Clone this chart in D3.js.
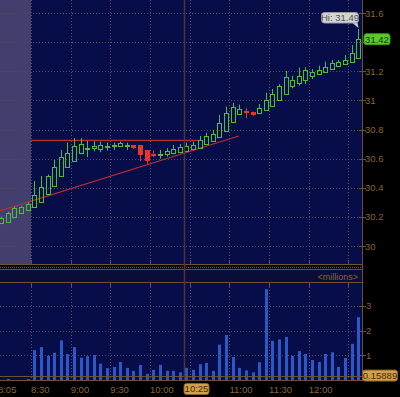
<!DOCTYPE html>
<html>
<head>
<meta charset="utf-8">
<script src="https://cdn.jsdelivr.net/npm/d3@7"></script>
<style>
  body { margin: 0; background: #000; }
  svg { display: block; }
  text { font-family: "Liberation Sans Narrow", "Liberation Sans", Arial, sans-serif; }
</style>
</head>
<body>
<svg id="chart" width="400" height="397"></svg>
<script>
// 5-minute bars, 8:05 .. 12:35
const opens  = [30.161, 30.167, 30.197, 30.225, 30.245, 30.267, 30.305, 30.358, 30.415, 30.481,
                30.545, 30.586, 30.637, 30.668, 30.675, 30.664, 30.683, 30.687, 30.687, 30.688,
                30.692, 30.691, 30.660, 30.635, 30.630, 30.630, 30.637, 30.648, 30.651, 30.669,
                30.675, 30.701, 30.721, 30.747, 30.790, 30.854, 30.905, 30.930, 30.923, 30.916,
                30.932, 30.962, 31.003, 31.044, 31.101, 31.117, 31.140, 31.170, 31.179, 31.195,
                31.214, 31.236, 31.250, 31.262, 31.290];
const highs  = [30.200, 30.235, 30.270, 30.275, 30.300, 30.447, 30.481, 30.490, 30.591, 30.660,
                30.710, 30.740, 30.740, 30.721, 30.720, 30.717, 30.710, 30.710, 30.717, 30.710,
                30.694, 30.691, 30.660, 30.655, 30.660, 30.672, 30.694, 30.700, 30.710, 30.717,
                30.756, 30.778, 30.797, 30.900, 30.957, 30.984, 30.971, 30.946, 30.923, 30.975,
                31.053, 31.078, 31.110, 31.202, 31.168, 31.225, 31.227, 31.214, 31.238, 31.266,
                31.277, 31.277, 31.312, 31.380, 31.490];
const lows   = [30.150, 30.160, 30.190, 30.220, 30.240, 30.260, 30.300, 30.350, 30.410, 30.475,
                30.540, 30.580, 30.630, 30.610, 30.650, 30.644, 30.655, 30.660, 30.685, 30.660,
                30.665, 30.584, 30.564, 30.610, 30.600, 30.614, 30.630, 30.645, 30.648, 30.665,
                30.670, 30.700, 30.720, 30.745, 30.785, 30.850, 30.900, 30.878, 30.895, 30.912,
                30.930, 30.960, 31.000, 31.040, 31.083, 31.101, 31.113, 31.147, 31.175, 31.190,
                31.210, 31.230, 31.245, 31.258, 31.285];
const closes = [30.191, 30.229, 30.259, 30.268, 30.289, 30.351, 30.408, 30.481, 30.541, 30.610,
                30.637, 30.687, 30.701, 30.674, 30.690, 30.692, 30.688, 30.691, 30.706, 30.692,
                30.683, 30.632, 30.591, 30.631, 30.635, 30.655, 30.669, 30.682, 30.685, 30.696,
                30.728, 30.756, 30.770, 30.847, 30.916, 30.953, 30.939, 30.925, 30.907, 30.946,
                31.003, 31.044, 31.099, 31.159, 31.140, 31.168, 31.209, 31.195, 31.209, 31.231,
                31.259, 31.262, 31.277, 31.323, 31.420];
// volume in millions
const volumes = [0, 0.04, 0, 0, 0.04, 1.21, 1.33, 0.98, 1.10, 1.60,
                 1.05, 1.33, 0.90, 0.96, 1.01, 0.66, 0.48, 0.53, 0.73, 0.49,
                 0.37, 0.61, 0.25, 0.41, 0.61, 0.37, 0.37, 0.31, 0.49, 0.41,
                 0.64, 0.69, 0.37, 1.43, 1.82, 0.93, 0.49, 0.39, 0.31, 0.72,
                 3.67, 1.58, 1.64, 1.74, 0.97, 1.17, 1.05, 0.81, 0.73, 1.05,
                 1.12, 0.53, 0.89, 1.46, 2.54];

const priceTicks = [30, 30.2, 30.4, 30.6, 30.8, 31, 31.2, 31.4, 31.6];
const volTicks = [1, 2, 3];
const gridTimes = ['8:30', '9:00', '9:30', '10:00', '10:30', '11:00', '11:30', '12:00', '12:30'];
const timeLabels = ['8:05', '8:30', '9:00', '9:30', '10:00', '11:00', '11:30', '12:00'];

// drawn studies / markers
const resistance = { price: 30.725, from: '8:30', to: '10:37' };
const trendLine = [['8:06:30', 30.241], ['11:07', 30.756]];
const crossTime = '10:26';
const crossLabel = '10:25';
const crossVolume = 0.15889;
const sessionOpen = '8:30';

const parseT = s => { const [h, m, sec] = s.split(':').map(Number); return new Date(2010, 0, 4, h, m, sec || 0); };
const barTimes = d3.timeMinute.every(5).range(parseT('8:05'), parseT('12:40'));
const bars = barTimes.map((t, i) => ({ t, o: opens[i], h: highs[i], l: lows[i], c: closes[i], v: volumes[i] }));

const W = 400, H = 397;
const plotR = 362, priceB = 264, volT = 283, volB = 380;
const navy = '#070d48', brown = '#6e4f2e', txt = '#846639', grid = '#5a4a52';
const green = '#4cbf3a', red = '#e8342a';

const x = d3.scaleTime().domain([parseT('8:30'), parseT('12:30')]).range([31, 348.4]);
const y = d3.scaleLinear().domain([30, 31.6]).range([246, 13]);
const yv = d3.scaleLinear().domain([0, 3.92]).range([volB, volT]);
const cx = d => Math.round(x(d3.timeSecond.offset(d.t, 150))) + 0.5;
const last = bars[bars.length - 1];

const svg = d3.select('#chart');
svg.append('rect').attr('width', W).attr('height', H).attr('fill', '#000');

// ---- price panel
const pp = svg.append('g');
pp.append('rect').attr('width', plotR).attr('height', priceB).attr('fill', navy);
pp.append('rect').attr('width', x(parseT(sessionOpen))).attr('height', priceB).attr('fill', '#423e6e');

pp.selectAll('.hgrid').data(priceTicks).join('line')
    .attr('x1', 0).attr('x2', plotR)
    .attr('y1', d => Math.round(y(d)) + 0.5).attr('y2', d => Math.round(y(d)) + 0.5)
    .attr('stroke', grid).attr('stroke-dasharray', '1,2');
pp.selectAll('.vgrid').data(gridTimes).join('line')
    .attr('x1', d => Math.round(x(parseT(d))) + 0.5).attr('x2', d => Math.round(x(parseT(d))) + 0.5)
    .attr('y1', 0).attr('y2', priceB)
    .attr('stroke', grid).attr('stroke-dasharray', '1,2');
pp.selectAll('.btick').data(gridTimes).join('line')
    .attr('x1', d => Math.round(x(parseT(d))) + 0.5).attr('x2', d => Math.round(x(parseT(d))) + 0.5)
    .attr('y1', priceB - 4).attr('y2', priceB)
    .attr('stroke', brown);

// studies
pp.append('line')
    .attr('x1', x(parseT(resistance.from))).attr('x2', x(parseT(resistance.to)))
    .attr('y1', y(resistance.price)).attr('y2', y(resistance.price))
    .attr('stroke', '#c02a28').attr('stroke-width', 1.3);
pp.append('line')
    .attr('x1', x(parseT(trendLine[0][0]))).attr('y1', y(trendLine[0][1]))
    .attr('x2', x(parseT(trendLine[1][0]))).attr('y2', y(trendLine[1][1]))
    .attr('stroke', '#c02a30').attr('stroke-width', 1.1);

// candles
const candle = pp.selectAll('.candle').data(bars).join('g').attr('class', 'candle');
candle.each(function(d) {
  const g = d3.select(this);
  const up = d.c >= d.o;
  const col = up ? green : red;
  const X = cx(d);
  const top = Math.round(y(Math.max(d.o, d.c))) + 0.5;
  let bot = Math.round(y(Math.min(d.o, d.c))) + 0.5;
  if (bot - top < 1) bot = top + 1;
  g.append('line').attr('x1', X).attr('x2', X).attr('y1', y(d.h)).attr('y2', top).attr('stroke', col);
  g.append('line').attr('x1', X).attr('x2', X).attr('y1', bot).attr('y2', y(d.l)).attr('stroke', col);
  if (up) {
    g.append('rect').attr('x', X - 2).attr('y', top).attr('width', 4).attr('height', bot - top)
      .attr('fill', 'none').attr('stroke', col);
  } else {
    g.append('rect').attr('x', X - 2.5).attr('y', top - 0.5).attr('width', 5).attr('height', bot - top + 1)
      .attr('fill', col);
  }
});

// ---- separator and volume header
svg.append('rect').attr('y', priceB).attr('width', plotR).attr('height', 6).attr('fill', '#0b0b12');
svg.append('line').attr('x1', 0).attr('x2', plotR).attr('y1', 267.5).attr('y2', 267.5)
    .attr('stroke', '#5a5a5a').attr('stroke-dasharray', '1,1');
svg.append('rect').attr('y', 270).attr('width', plotR).attr('height', 12).attr('fill', '#0a0d38');
[priceB + 0.5, 269.5, 282.5].forEach(v => {
  svg.append('line').attr('x1', 0).attr('x2', plotR).attr('y1', v).attr('y2', v).attr('stroke', brown);
});
svg.append('text').attr('x', 358).attr('y', 279.5).attr('text-anchor', 'end')
    .attr('font-size', 9).attr('fill', txt).text('<millions>');

// ---- volume panel
const vp = svg.append('g');
vp.append('rect').attr('y', volT).attr('width', plotR).attr('height', volB - volT).attr('fill', navy);
vp.selectAll('.vh').data(volTicks).join('line')
    .attr('x1', 0).attr('x2', plotR)
    .attr('y1', d => Math.round(yv(d)) + 0.5).attr('y2', d => Math.round(yv(d)) + 0.5)
    .attr('stroke', grid).attr('stroke-dasharray', '1,2');
vp.selectAll('.vv').data(gridTimes).join('line')
    .attr('x1', d => Math.round(x(parseT(d))) + 0.5).attr('x2', d => Math.round(x(parseT(d))) + 0.5)
    .attr('y1', volT + 4).attr('y2', volB)
    .attr('stroke', grid).attr('stroke-dasharray', '1,2');
vp.selectAll('.vt').data(gridTimes).join('line')
    .attr('x1', d => Math.round(x(parseT(d))) + 0.5).attr('x2', d => Math.round(x(parseT(d))) + 0.5)
    .attr('y1', volT).attr('y2', volT + 4)
    .attr('stroke', brown);
vp.selectAll('.vol').data(bars.filter(d => d.v > 0)).join('rect')
    .attr('x', d => cx(d) - 1.5).attr('width', 3)
    .attr('y', d => yv(d.v)).attr('height', d => volB - yv(d.v))
    .attr('fill', '#2a58c8');
vp.append('line').attr('x1', 0).attr('x2', plotR)
    .attr('y1', Math.round(yv(crossVolume)) + 0.5).attr('y2', Math.round(yv(crossVolume)) + 0.5)
    .attr('stroke', brown);
vp.append('line').attr('x1', 0).attr('x2', plotR).attr('y1', volB + 0.5).attr('y2', volB + 0.5)
    .attr('stroke', brown);

// crosshair
const crossX = Math.round(x(parseT(crossTime))) + 0.5;
svg.append('line').attr('x1', crossX).attr('x2', crossX).attr('y1', 0).attr('y2', volB)
    .attr('stroke', '#4b3535').attr('stroke-width', 1.5);

// ---- right axis
svg.append('line').attr('x1', plotR + 0.5).attr('x2', plotR + 0.5).attr('y1', 0).attr('y2', volB + 1)
    .attr('stroke', brown);
const pa = svg.append('g');
pa.selectAll('line').data(priceTicks).join('line')
    .attr('x1', plotR - 3).attr('x2', plotR + 4)
    .attr('y1', d => Math.round(y(d)) + 0.5).attr('y2', d => Math.round(y(d)) + 0.5)
    .attr('stroke', brown);
// the tick hidden under the last-price tag is left out
pa.selectAll('text').data(priceTicks.filter(d => Math.abs(y(d) - y(last.c)) > 8)).join('text')
    .attr('x', plotR + 3).attr('y', d => y(d) + 3.5)
    .attr('font-size', 9.5).attr('fill', txt)
    .text(d => d3.format('~g')(d));
const va = svg.append('g');
va.selectAll('line').data(volTicks).join('line')
    .attr('x1', plotR - 3).attr('x2', plotR + 4)
    .attr('y1', d => Math.round(yv(d)) + 0.5).attr('y2', d => Math.round(yv(d)) + 0.5)
    .attr('stroke', brown);
va.selectAll('text').data(volTicks).join('text')
    .attr('x', plotR + 4).attr('y', d => yv(d) + 3.5)
    .attr('font-size', 9.5).attr('fill', txt).text(d => d);

// ---- time axis
svg.append('g').selectAll('text').data(timeLabels).join('text')
    .attr('x', d => x(parseT(d))).attr('y', 393)
    .attr('font-size', 9.5).attr('fill', txt).text(d => d);

function tag(xPos, yMid, w, label, fill, stroke, color) {
  const g = svg.append('g');
  g.append('rect').attr('x', xPos + 0.5).attr('y', yMid - 5.5).attr('width', w).attr('height', 11)
    .attr('rx', 2.5).attr('fill', fill).attr('stroke', stroke);
  g.append('text').attr('x', xPos + 0.5 + w / 2).attr('y', yMid + 3.3).attr('text-anchor', 'middle')
    .attr('font-size', 9.5).attr('fill', color).text(label);
}
tag(crossX - 1, 389, 25, crossLabel, '#d2a048', '#8a6020', '#3a2810');
tag(plotR, yv(crossVolume) - 0.5, 35, d3.format('.5f')(crossVolume), '#d2a048', '#8a6020', '#3a2810');

// last price tag
tag(plotR + 1.5, y(last.c), 26, d3.format('.2f')(last.c), '#5acb28', '#3a9a18', '#143a00');

// session high tag
const hiX = cx(last), hiY = y(last.h);
const hg = svg.append('g');
hg.append('path')
    .attr('d', `M${hiX - 6},${hiY - 6} L${hiX - 1},${hiY - 6} L${hiX},${hiY - 1} Z`)
    .attr('fill', '#d4d4d4');
hg.append('rect').attr('x', hiX - 37).attr('y', hiY - 16.5).attr('width', 37).attr('height', 10.5)
    .attr('rx', 3).attr('fill', '#d4d4d4').attr('stroke', '#9a9a9a');
hg.append('text').attr('x', hiX - 18.5).attr('y', hiY - 8).attr('text-anchor', 'middle')
    .attr('font-size', 9.5).attr('fill', '#505050').text('Hi: ' + d3.format('.2f')(last.h));
</script>
</body>
</html>
